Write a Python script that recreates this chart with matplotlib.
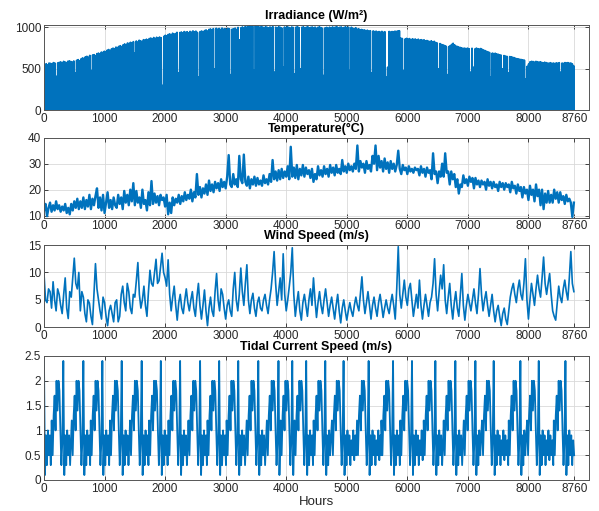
import numpy as np
import matplotlib.pyplot as plt

plt.rcParams['font.family'] = ['Liberation Sans', 'DejaVu Sans']

BLUE = '#0072BD'
GREY = '#262626'

# daily peak irradiance (W/m2), one value per day
irr_peak = [
    552, 561, 548, 570, 566, 558, 575, 569, 410, 572,
    578, 584, 571, 590, 583, 576, 592, 596, 588, 581,
    595, 450, 603, 611, 598, 620, 632, 626, 645, 651,
    640, 662, 480, 668, 671, 660, 684, 690, 679, 702,
    698, 712, 706, 725, 733, 720, 741, 750, 744, 762,
    758, 771, 779, 768, 790, 801, 786, 812, 806, 820,
    815, 828, 690, 836, 822, 845, 838, 830, 852, 846,
    858, 849, 866, 872, 860, 878, 865, 881, 870, 884,
    876, 300, 892, 905, 898, 915, 922, 910, 930, 918,
    926, 940, 450, 938, 945, 932, 950, 941, 948, 936,
    952, 944, 958, 947, 955, 940, 400, 950, 957, 946,
    962, 970, 958, 975, 982, 968, 985, 500, 990, 978,
    988, 975, 993, 980, 986, 972, 990, 983, 430, 979,
    984, 992, 976, 1000, 850, 995, 1006, 990, 1010, 1002,
    1012, 1020, 1005, 1016, 480, 1018, 1008, 1014, 1000, 1010,
    1004, 998, 1008, 1002, 995, 1006, 999, 1008, 460, 1003,
    996, 1008, 1001, 994, 520, 1005, 998, 1008, 1000, 992,
    1006, 999, 440, 1004, 1008, 996, 500, 1002, 1007, 995,
    1003, 1008, 994, 1000, 1006, 997, 1004, 991, 1001, 1007,
    998, 990, 420, 996, 1001, 988, 1003, 995, 1006, 999,
    1004, 1008, 997, 1002, 1006, 993, 1000, 1008, 995, 1003,
    480, 1002, 990, 985, 996, 978, 984, 970, 975, 968,
    970, 962, 966, 955, 960, 450, 958, 950, 955, 946,
    950, 944, 952, 941, 948, 400, 520, 951, 945, 950,
    948, 955, 952, 958, 960, 872, 866, 480, 860, 868,
    858, 865, 852, 862, 856, 860, 848, 858, 845, 852,
    846, 850, 838, 842, 835, 830, 838, 826, 832, 818,
    812, 500, 805, 795, 790, 782, 775, 430, 768, 780,
    795, 808, 790, 775, 770, 762, 758, 752, 748, 750,
    745, 750, 742, 460, 748, 520, 740, 750, 744, 738,
    745, 735, 728, 720, 712, 705, 698, 400, 690, 685,
    688, 680, 676, 670, 665, 500, 660, 655, 650, 450,
    648, 645, 640, 635, 628, 622, 620, 615, 612, 608,
    605, 380, 530, 560, 585, 590, 588, 582, 590, 586,
    580, 585, 578, 572, 580, 575, 570, 568, 574, 566,
    570, 565, 572, 568, 574, 460, 570, 566, 575, 572,
    575, 568, 571, 560, 536,
]

# temperature (C), every 25 h, one row = 300 h
temp = [
    12, 14.5, 9.8, 13, 15, 11.5, 14, 12, 15.5, 12.5, 14, 11.5,
    13.5, 12, 14.5, 11, 13, 10.5, 14.5, 12, 15.5, 13, 16.5, 12.5,
    15.5, 13, 17, 12.5, 16, 13.5, 18, 12.5, 16.5, 14, 17.5, 20.5,
    13, 17, 12, 18, 11, 15, 19, 13, 16, 12.5, 17, 14,
    13, 18, 14.5, 17, 12.5, 19.5, 15, 18, 14, 20, 15.5, 22.5,
    14, 19.5, 15, 17, 13, 20, 14.5, 16, 12, 19, 14, 23.3,
    14.5, 18.5, 15, 17.5, 14, 18, 16, 17, 13.5, 18, 10.5, 15,
    11, 17, 14, 16.5, 15, 18, 14.5, 17.5, 15.5, 19, 16, 18,
    16.5, 20, 15.5, 19, 17, 26, 18, 21, 17, 20.5, 18.5, 22,
    18, 23.5, 19.5, 22, 19, 23, 20.5, 22.5, 19.5, 24, 21, 23,
    20.5, 25, 33.3, 22, 21, 26, 22, 24, 21, 33, 24, 22.5,
    33.5, 23, 21.5, 25, 20.5, 24, 22, 25, 21.5, 24.5, 22, 23.5,
    21.5, 25.5, 22.5, 24, 22, 26, 23, 31.4, 24, 27, 23.5, 27.5,
    24, 28, 24.5, 27, 25, 29, 24, 36.5, 25, 28.5, 24.5, 29.5,
    24, 28, 25.5, 29.5, 25, 28.5, 26, 27.5, 24.5, 28, 23, 26,
    24, 29, 25.5, 27.5, 25, 29, 26, 28, 25, 29.5, 26.5, 28.5,
    25.5, 29.5, 26.5, 28, 26, 31.4, 27, 29, 26.5, 30, 27.5, 29,
    27, 30, 28, 37, 27, 31, 28.5, 30, 26.5, 31, 28, 29.5,
    27, 33, 30, 37, 27.5, 33, 28.5, 31, 27, 32, 28, 30.5,
    26.5, 31, 28, 30, 27, 29.5, 35, 28, 26, 29.5, 27.5, 28.5,
    26, 29, 27, 28, 26.5, 28.5, 27.5, 28, 25.5, 29, 26.5, 28,
    25, 28.5, 26.5, 27.5, 24, 34, 26, 27, 22.5, 27, 25, 30,
    25, 34, 26.5, 27, 22, 27, 24, 26, 21, 24, 18.5, 22,
    21, 25.5, 22.5, 24, 21.5, 25, 23, 24.5, 20.5, 24.5, 22, 23.5,
    21, 23.5, 22, 23, 20, 24, 21.5, 23, 20.5, 23, 21, 22,
    19.5, 23, 21, 22.5, 20, 22.5, 21, 22, 19, 23, 20.5, 21.5,
    18.5, 22, 19.5, 21, 17, 21, 18.5, 20, 16, 21.5, 18, 20,
    15.5, 22, 17.5, 20, 14, 20, 12.5, 18.5, 15, 19.5, 15, 18,
    15, 20, 16.5, 19, 15, 19, 16, 17.5, 14.5, 18, 15.5, 16.5,
    15, 9.5, 15,
]

# wind speed (m/s), every 25 h, one row = 300 h
wind = [
    9.8, 5, 4.5, 7, 6.5, 3.5, 8.3, 5, 3, 7, 6, 4,
    2.5, 6, 9, 3.5, 1.6, 6.5, 5.5, 9, 12.6, 8, 7, 10,
    3, 6.5, 5.5, 2.5, 1, 5, 4.4, 2, 0.5, 6, 11.6, 7,
    5, 3, 1.5, 5.5, 4.5, 2, 0.3, 3, 4, 2.5, 1, 4.5,
    5, 1, 2, 6, 7.5, 4.5, 3, 8, 6.5, 3.5, 2.5, 6,
    5.5, 8.5, 11.8, 6, 3.5, 5, 7.5, 4, 2, 6.5, 10.4, 8,
    7.5, 10, 12.4, 8, 8.5, 11, 13.5, 10, 9, 7.5, 12.3, 6,
    3, 5.5, 7.5, 4, 1.3, 4.5, 6, 3.5, 2.5, 5, 7, 4.5,
    3, 5, 6.5, 3.5, 2, 5.5, 8, 4, 1.5, 4, 6.8, 3,
    0.3, 3.5, 5.5, 3, 2, 6.5, 9.8, 5, 3, 7, 6, 3.5,
    1.5, 4, 5, 3, 2, 7, 10, 5, 3, 6, 10.8, 6.5,
    4, 8, 11.4, 5, 2.5, 5, 6.2, 3.5, 2, 4.5, 5.5, 3.5,
    3, 5, 6, 4, 2.5, 5, 7, 10, 13.8, 8, 4, 6.5,
    9, 5, 13.4, 6, 3, 5, 7.4, 10, 14.5, 6, 2, 4.5,
    6.5, 3, 1.3, 4.5, 6, 4, 2, 5, 7, 4, 9, 5,
    1.8, 4.5, 6.5, 4, 2.5, 5, 7, 4.5, 2, 4, 5.5, 3.5,
    1.5, 4, 6, 3, 0.8, 3.5, 5, 3, 1.3, 3, 4.5, 3,
    2, 4, 5.5, 4, 3, 6, 9.2, 5, 2.5, 4.5, 6.5, 4,
    1.5, 4, 5.5, 3.5, 2, 4.5, 6, 4, 1.8, 3.5, 5, 3.5,
    2.5, 4.5, 6, 4, 1.5, 7, 14.7, 6, 3.5, 6, 8.6, 5.5,
    4, 7, 8, 5, 2, 4, 6, 3.5, 8.6, 4, 1.5, 4,
    6, 4, 2, 4.5, 5.5, 8, 12.5, 6, 3, 6.5, 9.5, 7,
    11.4, 5, 2.5, 5.5, 8, 4, 1.5, 4.5, 6.5, 3.5, 2, 6,
    9.8, 4, 1.3, 4, 6, 4.5, 3, 5, 7, 4.5, 2.5, 6,
    10.7, 6, 3, 5, 6.5, 4, 2, 4, 6, 3, 1, 3,
    4, 2, 0.3, 2.5, 3.5, 1.5, 0.5, 3, 5.5, 7, 8, 6,
    4.5, 7, 8.6, 6, 5, 8, 12.5, 5, 1.5, 5, 8, 6,
    4, 7, 9.5, 7, 5.5, 9, 12.8, 8, 6, 8, 9.8, 6,
    3, 2, 1.3, 4.5, 7.5, 5.5, 4.5, 7, 8.6, 6.5, 5, 9,
    13.8, 8, 6.5,
]

# tidal current (m/s): one spring cycle read at 16 h steps, and the hours of its peaks
tide_cycle = [1.2, 0.5, 1.3, 1.7, 1.0, 2.0, 1.4, 2.0, 1.8, 1.0,
              0.3, 0.8, 2.4, 0.1, 0.9, 0.3, 1.0, 0.5, 0.9, 0.3,
              0.8, 0.5, 1.0, 0.4, 0.9, 0.5, 0.8, 0.3, 0.9]
tide_peaks = [0, 319, 650, 964, 1283, 1613, 1929, 2248, 2578, 2893, 3208,
              3539, 3872, 4100, 4330, 4645, 4947, 5361, 5764, 6077, 6463,
              6793, 7124, 7426, 7867, 8170, 8611]

xticks = [0, 1000, 2000, 3000, 4000, 5000, 6000, 7000, 8000, 8760]

# build hourly x positions
days = np.arange(len(irr_peak))
irr_x = np.column_stack([days * 24 + 6, days * 24 + 12, days * 24 + 18]).ravel()
irr_y = np.column_stack([np.zeros(len(days)), irr_peak, np.zeros(len(days))]).ravel()

temp_x = np.arange(len(temp)) * 25
wind_x = np.arange(len(wind)) * 25

tx, ty = [], []
for k, p in enumerate(tide_peaks):
    start = p - 192
    nxt = tide_peaks[k + 1] - 192 if k + 1 < len(tide_peaks) else 9000
    for j, v in enumerate(tide_cycle):
        h = start + 16 * j
        if h >= nxt:
            break
        if 0 <= h <= 8760:
            tx.append(h)
            ty.append(v)

fig = plt.figure(figsize=(5.99, 5.11), dpi=100)
left, width = 44 / 599, 545 / 599
boxes = [(25, 110.3), (137.7, 217.7), (245, 327.3), (356, 480)]
axes = [fig.add_axes([left, 1 - b / 511, width, (b - t) / 511]) for t, b in boxes]

axes[0].plot(irr_x, irr_y, color=BLUE, lw=1.3)
axes[1].plot(temp_x, temp, color=BLUE, lw=1.7)
axes[2].plot(wind_x, wind, color=BLUE, lw=1.2)
axes[3].plot(tx, ty, color=BLUE, lw=1.3)

titles = ['Irradiance (W/m²)', 'Temperature(°C)', 'Wind Speed (m/s)', 'Tidal Current Speed (m/s)']
ylims = [(0, 1030), (9.2, 40), (0, 15), (0, 2.5)]
yticks = [[0, 500, 1000], [10, 20, 30, 40], [0, 5, 10, 15], [0, 0.5, 1, 1.5, 2, 2.5]]

for ax, ttl, yl, yt in zip(axes, titles, ylims, yticks):
    ax.set_xlim(0, 9000)
    ax.set_ylim(*yl)
    ax.set_xticks(xticks)
    ax.set_yticks(yt)
    ax.set_yticklabels([f'{v:g}' for v in yt])
    ax.set_title(ttl, fontsize=9, fontweight='bold', pad=4)
    ax.grid(True, color='#d9d9d9', lw=0.6)
    ax.set_axisbelow(True)
    ax.tick_params(direction='in', length=3, width=0.6, labelsize=8.5, colors=GREY,
                   top=True, right=True, pad=2)
    for s in ax.spines.values():
        s.set_color('#555555')
        s.set_linewidth(0.7)

axes[3].set_xlabel('Hours', fontsize=9.5, color=GREY, labelpad=1)

fig.savefig('out.png', dpi=100)
